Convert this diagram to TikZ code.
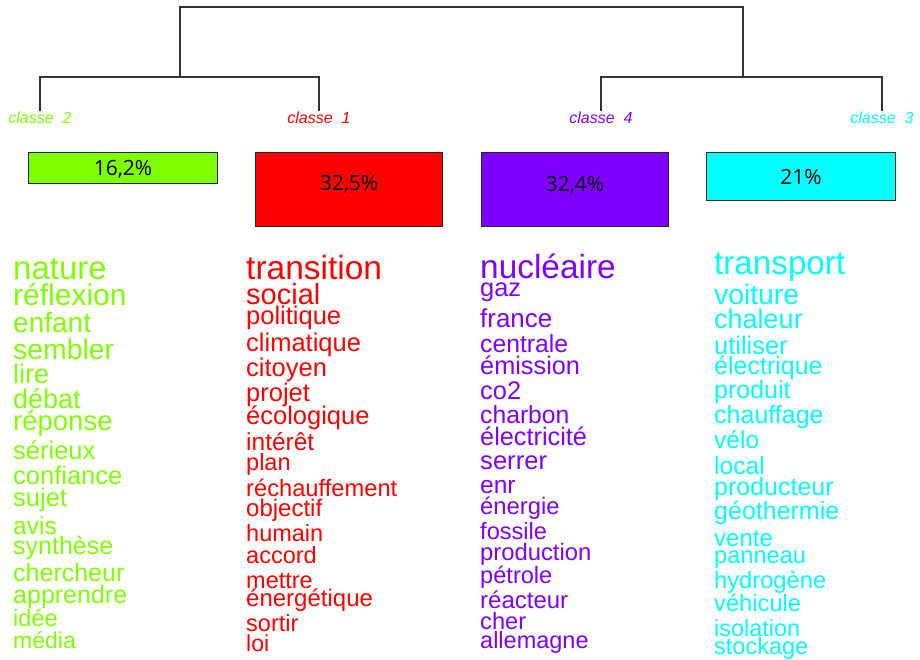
\documentclass[tikz,border=0pt]{standalone}
\usepackage{fontspec}
\setmainfont{Liberation Sans}
\newfontfamily\pctfont{Open Sans}
\definecolor{cltwo}{RGB}{128,255,0}
\definecolor{clone}{RGB}{255,0,0}
\definecolor{clfour}{RGB}{128,0,255}
\definecolor{clthree}{RGB}{0,255,255}
\tikzset{
  tree/.style={draw=black!80, line width=1.5pt},
  classe/.style={anchor=base, inner sep=0pt, font=\fontsize{16}{16}\selectfont\itshape},
  pctbox/.style={draw=black!85, line width=1pt, anchor=north west, inner sep=0pt,
    font=\pctfont\fontsize{21}{21}\selectfont},
  word/.style={anchor=base west, inner sep=0pt},
}
\begin{document}
\begin{tikzpicture}[x=1pt,y=-1pt]
\useasboundingbox (0,0) rectangle (920,659);

\node[classe,text=cltwo] (c2) at (40,123) {classe~~2};
\node[classe,text=clone] (c1) at (319,123) {classe~~1};
\node[classe,text=clfour] (c4) at (601,123) {classe~~4};
\node[classe,text=clthree] (c3) at (882,123) {classe~~3};

\coordinate (j12) at (180,77);
\coordinate (j43) at (743,77);
\coordinate (top) at (461,7);
\draw[tree] (c2.north) |- (j12) -| (c1.north);
\draw[tree] (c4.north) |- (j43) -| (c3.north);
\draw[tree] (j12) |- (top) -| (j43);

\node[pctbox,fill=cltwo,minimum width=189pt,text height=22.5pt,text depth=8.5pt] (p2) at (28,152) {16,2\%};
\node[pctbox,fill=clone,minimum width=187pt,text height=37.5pt,text depth=36.5pt] (p1) at (255,152) {32,5\%};
\node[pctbox,fill=clfour,minimum width=187pt,text height=38.5pt,text depth=35.5pt] (p4) at (481,152) {32,4\%};
\node[pctbox,fill=clthree,minimum width=189pt,text height=31.5pt,text depth=16.5pt] (p3) at (706,152) {21\%};

\foreach \w/\y/\s [count=\i] in {nature/279/33, réflexion/305/30, enfant/332/28,
  sembler/359/28.4, lire/383/27, débat/408/27, réponse/430/27.5, sérieux/459/25.5,
  confiance/484/25.5, sujet/506/25.5, avis/534/24.5, synthèse/554/25, chercheur/581/25,
  apprendre/603/25, idée/626/23.5, média/648/23}
  \node[word,text=cltwo,font={\fontsize{\s}{\s}\selectfont}] (w2-\i) at (13,\y) {\w};

\foreach \w/\y/\s [count=\i] in {transition/279/33.5, social/304/29, politique/324/25.5,
  climatique/351/25.5, citoyen/376/25.5, projet/401/25.5, écologique/424/25.5,
  intérêt/450/24.5, plan/470/23.5, réchauffement/496/23.7, objectif/516/24,
  humain/541/23.5, accord/563/23.5, mettre/588/23.5, énergétique/606/24,
  sortir/631/23.5, loi/651/23}
  \node[word,text=clone,font={\fontsize{\s}{\s}\selectfont}] (w1-\i) at (246,\y) {\w};

\foreach \w/\y/\s [count=\i] in {nucléaire/278/33.4, gaz/296/25.4, france/327/25.9,
  centrale/352/24.7, émission/374/25.3, co2/399/25.4, charbon/423/24.7,
  électricité/445/25.3, serrer/469/25.6, enr/493/24.5, énergie/514/23.8,
  fossile/539/23.6, production/560/23.8, pétrole/583/23.6, réacteur/608/24,
  cher/629/23.6, allemagne/648/23.5}
  \node[word,text=clfour,font={\fontsize{\s}{\s}\selectfont}] (w4-\i) at (480,\y) {\w};

\foreach \w/\y/\s [count=\i] in {transport/274/33.2, voiture/304/28.3, chaleur/328/27,
  utiliser/354/25.4, électrique/374/25, produit/398/25, chauffage/423/25,
  vélo/448/24.5, local/474/24.6, producteur/495/25, géothermie/519/25,
  vente/546/24, panneau/563/23.6, hydrogène/588/23.7, véhicule/611/23.7,
  isolation/636/23.4, stockage/654/23.5}
  \node[word,text=clthree,font={\fontsize{\s}{\s}\selectfont}] (w3-\i) at (714,\y) {\w};
\end{tikzpicture}
\end{document}
